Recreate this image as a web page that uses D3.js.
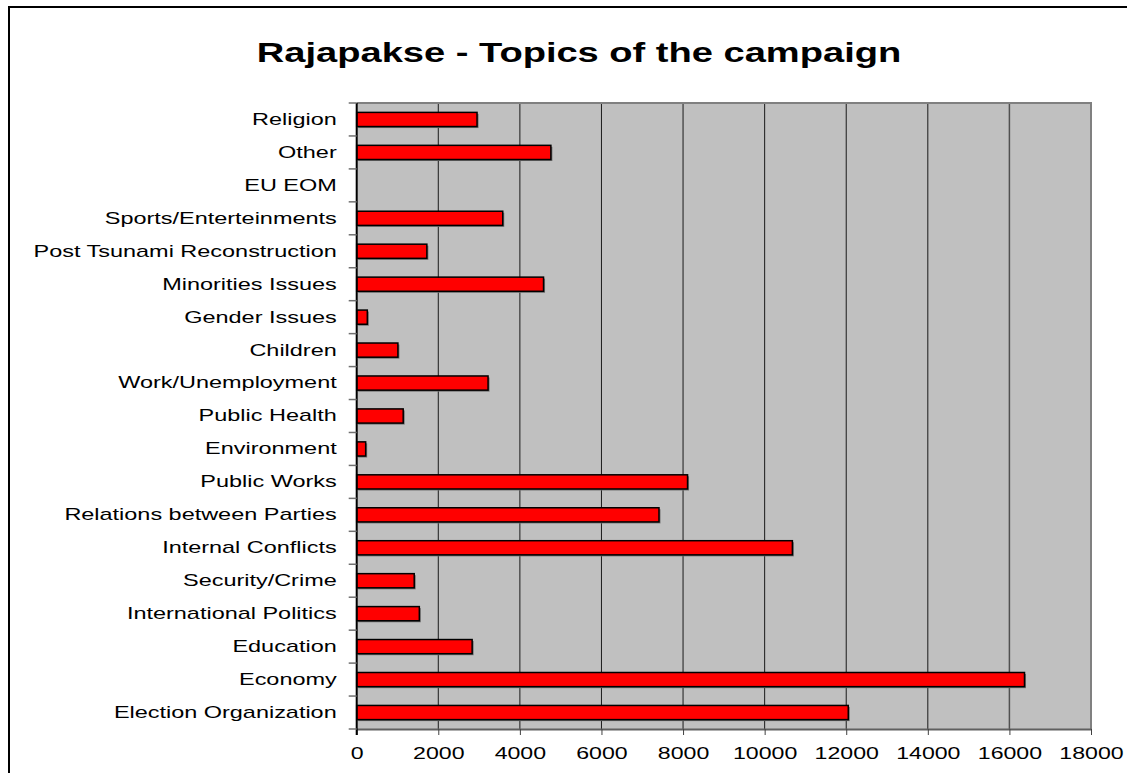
<!DOCTYPE html>
<html>
<head>
<meta charset="utf-8">
<script src="https://cdn.jsdelivr.net/npm/d3@7"></script>
<style>
  html, body { margin: 0; padding: 0; background: #fff; }
  svg { display: block; }
  text { font-family: "Liberation Sans", Arial, sans-serif; fill: #000; }
</style>
</head>
<body>
<svg id="chart" width="1127" height="773"></svg>
<script>
const title = "Rajapakse - Topics of the campaign";
const categories = [
  "Religion", "Other", "EU EOM", "Sports/Enterteinments", "Post Tsunami Reconstruction",
  "Minorities Issues", "Gender Issues", "Children", "Work/Unemployment", "Public Health",
  "Environment", "Public Works", "Relations between Parties", "Internal Conflicts",
  "Security/Crime", "International Politics", "Education", "Economy", "Election Organization"
];
const values = [
  2950, 4760, 0, 3580, 1720,
  4580, 260, 1010, 3220, 1140,
  220, 8110, 7410, 10680,
  1410, 1535, 2830, 16370, 12050
];
const xTicks = [0, 2000, 4000, 6000, 8000, 10000, 12000, 14000, 16000, 18000];

const S = 1.36;  // horizontal stretch of the original's text rendering
const SY = 1.38; // stretch for category labels
const svg = d3.select("#chart");
const plot = { left: 356.7, right: 1091, top: 103, bottom: 729 };

// outer frame
svg.append("rect").attr("x", 9).attr("y", 7).attr("width", 1300).attr("height", 900)
  .attr("fill", "none").attr("stroke", "#000").attr("stroke-width", 2);

svg.append("text").attr("transform", `translate(579,62) scale(${S},1)`).attr("text-anchor", "middle")
  .style("font-size", "28px").style("font-weight", "bold").text(title);

const x = d3.scaleLinear().domain([0, 18000]).range([plot.left, plot.right]);
const y = d3.scaleBand().domain(categories).range([plot.top, plot.bottom]).paddingInner(0.57).paddingOuter(0.285);
const yb = d3.scaleBand().domain(categories).range([plot.top, plot.bottom]);

// plot background
svg.append("rect").attr("x", plot.left).attr("y", plot.top)
  .attr("width", plot.right - plot.left).attr("height", plot.bottom - plot.top)
  .attr("fill", "#c0c0c0");

// gridlines
svg.append("g").selectAll("line").data(xTicks.filter(d => d > 0 && d < 18000)).join("line")
  .attr("x1", d => x(d)).attr("x2", d => x(d))
  .attr("y1", plot.top).attr("y2", plot.bottom)
  .attr("stroke", d => d === 16000 ? "#505050" : "#1a1a1a").attr("stroke-width", d => d === 16000 ? 1.5 : 1);

// plot border top/right
svg.append("path")
  .attr("d", `M${plot.left},${plot.top}H${plot.right}V${plot.bottom}`)
  .attr("fill", "none").attr("stroke", "#808080").attr("stroke-width", 2);

// bars: shadow + bar
const shown = categories.filter((c, i) => values[i] > 0);
const bars = svg.append("g");
bars.selectAll("rect.shadow").data(shown).join("rect")
  .attr("class", "shadow")
  .attr("x", x(0) + 1.5)
  .attr("y", d => y(d) + 1.5)
  .attr("width", d => x(values[categories.indexOf(d)]) - x(0))
  .attr("height", y.bandwidth())
  .attr("fill", "#707070");
bars.selectAll("rect.bar").data(shown).join("rect")
  .attr("class", "bar")
  .attr("x", x(0))
  .attr("y", d => y(d))
  .attr("width", d => x(values[categories.indexOf(d)]) - x(0))
  .attr("height", y.bandwidth())
  .attr("fill", "#ff0000").attr("stroke", "#000").attr("stroke-width", 1.5);

// x axis
const xAxis = svg.append("g").attr("transform", `translate(0,${plot.bottom})`)
  .call(d3.axisBottom(x).tickValues(xTicks).tickFormat(d3.format("d")).tickSize(6).tickSizeOuter(0).tickPadding(12));
xAxis.select(".domain").attr("stroke", "#606060").attr("stroke-width", 2);
xAxis.selectAll(".tick line").attr("stroke", "#404040");
xAxis.selectAll("text").style("font-size", "17px").attr("fill", "#000")
  .attr("transform", `scale(${S},1)`);

// y axis
const yAxis = svg.append("g").attr("transform", `translate(${plot.left},0)`)
  .call(d3.axisLeft(y).tickSize(0).tickPadding(20));
yAxis.select(".domain").remove();
yAxis.selectAll("text").style("font-size", "17px").attr("fill", "#000")
  .attr("x", -20 / SY).attr("transform", `scale(${SY},1)`);
svg.append("line").attr("x1", plot.left).attr("x2", plot.left)
  .attr("y1", plot.top).attr("y2", plot.bottom + 6).attr("stroke", "#000").attr("stroke-width", 2);
// category boundary ticks
const bounds = categories.map(c => yb(c)).concat([plot.bottom]);
svg.append("g").selectAll("line").data(bounds).join("line")
  .attr("x1", plot.left - 8).attr("x2", plot.left)
  .attr("y1", d => d).attr("y2", d => d)
  .attr("stroke", "#707070").attr("stroke-width", 1.5);
</script>
</body>
</html>
